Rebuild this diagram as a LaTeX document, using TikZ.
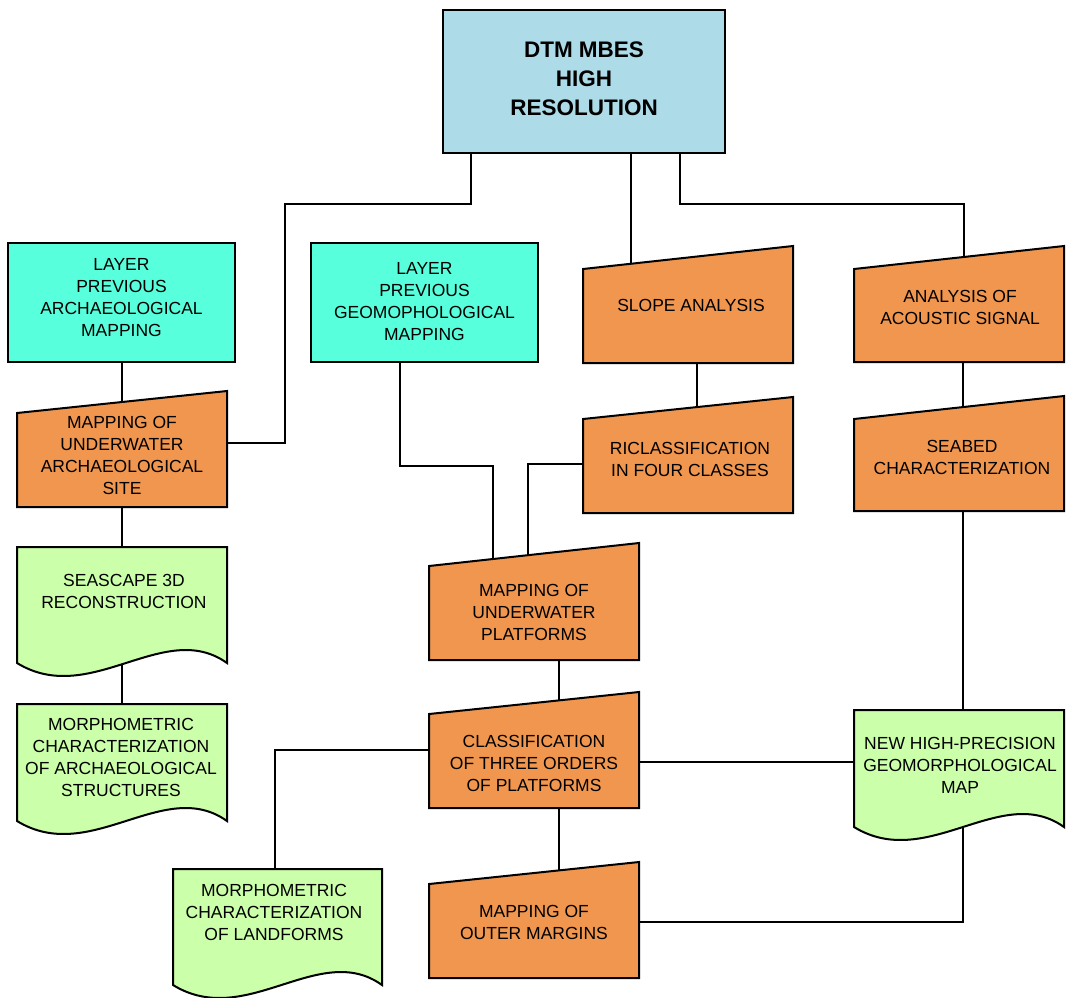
\documentclass[tikz,border=0pt]{standalone}
\usepackage{fontspec}
\setmainfont{Liberation Sans}
\pgfdeclarelayer{bg}
\pgfdeclarelayer{lines}
\pgfsetlayers{bg,lines,main}
\definecolor{cblue}{HTML}{ADDCE8}
\definecolor{caqua}{HTML}{58FFDC}
\definecolor{corange}{HTML}{F0964F}
\definecolor{cgreen}{HTML}{CCFFAA}
\tikzset{
  ln/.style={line width=2pt, draw=black},
  frame/.style={draw=none, fill=none, inner sep=0pt, outer sep=0pt},
  lbl/.style={align=center, font=\fontsize{17.5}{22}\selectfont, inner sep=0pt},
}
\newcommand\mkrect[6]{%
  \node[frame, minimum width=#4pt, minimum height=#5pt] (#1) at (#2,#3) {};
  \filldraw[ln, fill=#6] (#1.south west) rectangle (#1.north east);
}
\newcommand\mkmanual[7]{%
  \node[frame, minimum width=#4pt, minimum height=#5pt] (#1) at (#2,#3) {};
  \filldraw[ln, fill=#7] (#1.south west) -- ([yshift=-#6pt]#1.north west) -- (#1.north east) -- (#1.south east) -- cycle;
}
\newcommand\mkdoc[6]{%
  \node[frame, minimum width=#4pt, minimum height=#5pt] (#1) at (#2,#3) {};
  \filldraw[ln, fill=#6] (#1.south west) -- (#1.north west) -- (#1.north east) -- (#1.south east)
    .. controls ([xshift=-0.3*#4pt, yshift=45pt]#1.south east) and ([xshift=0.35*#4pt, yshift=-45pt]#1.south west) .. (#1.south west) -- cycle;
}
\begin{document}
\begin{tikzpicture}[x=1pt, y=-1pt]
\useasboundingbox (0,0) rectangle (1067,997);
\begin{pgfonlayer}{bg}
\fill[white] (0,0) rectangle (1067,997);
\end{pgfonlayer}

% shapes
\mkrect{top}{584}{81.5}{282}{143}{cblue}
\mkrect{lpa}{121.5}{302.5}{227}{119}{caqua}
\mkrect{lpg}{424.5}{302.5}{227}{119}{caqua}
\mkmanual{slope}{688}{304.5}{210}{117}{23}{corange}
\mkmanual{acoustic}{959}{304}{210}{116}{23}{corange}
\mkmanual{site}{122}{449}{210}{116}{22}{corange}
\mkmanual{riclass}{688}{455}{210}{116}{22}{corange}
\mkmanual{seabed}{959}{453.5}{210}{115}{23}{corange}
\mkdoc{seascape}{122}{605}{210}{116}{cgreen}
\mkdoc{morpharch}{122}{762.5}{210}{117}{cgreen}
\mkmanual{platforms}{534}{601.5}{210}{117}{23}{corange}
\mkmanual{classif}{534}{750}{210}{116}{22}{corange}
\mkdoc{newmap}{959}{768.5}{210}{117}{cgreen}
\mkdoc{landforms}{277.5}{927}{209}{116}{cgreen}
\mkmanual{outer}{534}{920}{210}{116}{22}{corange}

% texts
\node[lbl, font=\bfseries\fontsize{22.5}{29}\selectfont] (t-top) at (584,79) {DTM MBES\\HIGH\\RESOLUTION};
\node[lbl] (t-lpa) at (121.5,297.5) {LAYER\\PREVIOUS\\ARCHAEOLOGICAL\\MAPPING};
\node[lbl] (t-lpg) at (424.5,302) {LAYER\\PREVIOUS\\GEOMOPHOLOGICAL\\MAPPING};
\node[lbl] (t-slope) at (691,305) {SLOPE ANALYSIS};
\node[lbl] (t-acoustic) at (960,307) {ANALYSIS OF\\ACOUSTIC SIGNAL};
\node[lbl] (t-site) at (122,455) {MAPPING OF\\UNDERWATER\\ARCHAEOLOGICAL\\SITE};
\node[lbl] (t-riclass) at (690,459) {RICLASSIFICATION\\IN FOUR CLASSES};
\node[lbl] (t-seabed) at (962,457.5) {SEABED\\CHARACTERIZATION};
\node[lbl] (t-seascape) at (124,591) {SEASCAPE 3D\\RECONSTRUCTION};
\node[lbl] (t-morpharch) at (121,757) {MORPHOMETRIC\\CHARACTERIZATION\\OF ARCHAEOLOGICAL\\STRUCTURES};
\node[lbl] (t-platforms) at (534,612) {MAPPING OF\\UNDERWATER\\PLATFORMS};
\node[lbl] (t-classif) at (534,763) {CLASSIFICATION\\OF THREE ORDERS\\OF PLATFORMS};
\node[lbl] (t-newmap) at (960,765) {NEW HIGH-PRECISION\\GEOMORPHOLOGICAL\\MAP};
\node[lbl] (t-landforms) at (274,912.5) {MORPHOMETRIC\\CHARACTERIZATION\\OF LANDFORMS};
\node[lbl] (t-outer) at (534,922) {MAPPING OF\\OUTER MARGINS};

% connectors (drawn beneath the shapes; ends hidden by the fills)
\begin{pgfonlayer}{lines}
\draw[ln] ([xshift=28pt]top.south west) -- (471,204) -- (285,204) -- (285,443) -- ([yshift=6pt]site.east);
\draw[ln] ([xshift=47pt]top.south) -- ([xshift=-57pt]slope.center);
\draw[ln] ([xshift=96pt]top.south) -- (680,204) -- (964,204) -- ([xshift=5pt]acoustic.center);
\draw[ln] (lpa.south) -- (lpa.south |- site.center);
\draw[ln] (site.south) -- (site.south |- seascape.north);
\draw[ln] (seascape.south) -- (seascape.south |- morpharch.north);
\draw[ln] ([xshift=-24.5pt]lpg.south) |- (493,466) -- ([xshift=-41pt]platforms.center);
\draw[ln] ([xshift=9pt]slope.south) -- ([xshift=9pt]riclass.center);
\draw[ln] ([yshift=-9pt]riclass.west) -| ([xshift=-6pt]platforms.center);
\draw[ln] ([xshift=4pt]acoustic.south) -- ([xshift=4pt]seabed.center);
\draw[ln] ([xshift=4pt]seabed.south) -- ([xshift=4pt]newmap.north);
\draw[ln] ([xshift=25pt]platforms.south) -- ([xshift=25pt]classif.center);
\draw[ln] (classif.west) -| ([xshift=-2.5pt]landforms.north);
\draw[ln] ([yshift=-12pt]classif.east) -- ([yshift=6.5pt]newmap.west);
\draw[ln] ([yshift=-2pt]outer.east) -| ([xshift=4pt]newmap.center);
\draw[ln] ([xshift=25pt]classif.south) -- ([xshift=25pt]outer.center);
\end{pgfonlayer}
\end{tikzpicture}
\end{document}
